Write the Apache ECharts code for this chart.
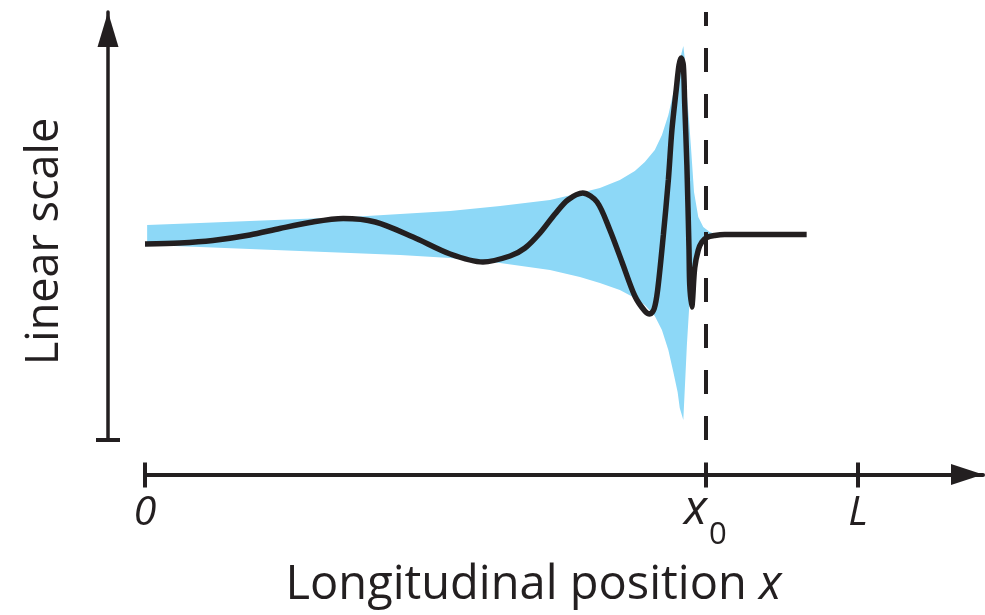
<!DOCTYPE html>
<html>
<head>
<meta charset="utf-8">
<script src="https://cdn.jsdelivr.net/npm/echarts@6/dist/echarts.min.js"></script>
<style>
  html, body { margin: 0; padding: 0; background: #fff; }
  #chart { width: 985px; height: 615px; }
</style>
</head>
<body>
<div id="chart"></div>
<script>
// envelope of the wave (blue band)
const envX      = [0.03, 0.77, 1.47, 2.17, 2.88, 3.58, 4.28, 4.98, 5.68, 6.10, 6.38, 6.66, 6.87, 7.01, 7.15, 7.25, 7.34, 7.41, 7.47, 7.50, 7.55, 7.57, 7.60, 7.63, 7.66, 7.70, 7.76, 7.83, 7.92, 8.04];
const envTop    = [1.5, 1.7, 1.9, 2.1, 2.3, 2.6, 2.9, 3.4, 4.0, 4.7, 5.2, 6.0, 6.9, 7.8, 9.0, 10.5, 12.5, 14.7, 16.5, 18.0, 19.4, 18.2, 14.5, 12.0, 9.0, 4.8, 2.3, 1.3, 0.8, 0.5];
const envBottom = [-0.5, -0.7, -0.9, -1.1, -1.3, -1.5, -1.8, -2.3, -3.0, -3.7, -4.3, -5.0, -5.8, -6.5, -7.6, -9.0, -11.0, -13.2, -15.2, -16.8, -18.0, -15.0, -10.5, -7.0, -4.5, -2.2, -1.0, -0.3, 0.2, 0.4];

// the wave itself (black curve)
const waveX = [0, 0.49, 0.95, 1.47, 1.89, 2.31, 2.78, 3.23, 3.76, 4.28, 4.74, 5.12, 5.33, 5.54, 5.75, 5.93, 6.14, 6.34, 6.52, 6.69, 6.87, 7.01, 7.08, 7.14, 7.19, 7.27, 7.34, 7.39, 7.45, 7.49, 7.52, 7.55, 7.57, 7.60, 7.63, 7.64, 7.67, 7.68, 7.71, 7.76, 7.81, 7.88, 7.99, 8.13, 8.63, 9.28];
const waveY = [-0.4, -0.3, -0.05, 0.5, 1.15, 1.75, 2.15, 1.8, 0.3, -1.4, -2.2, -1.6, -0.8, 0.7, 2.6, 4.0, 4.7, 3.8, 1.0, -2.2, -5.6, -7.1, -7.4, -6.9, -5.0, 0.5, 6.0, 11.0, 15.0, 17.5, 18.2, 17.5, 13.5, 7.5, -1.0, -4.5, -6.7, -6.0, -2.8, -1.0, -0.2, 0.25, 0.45, 0.55, 0.55, 0.55];

// x axis marks
const X0 = 7.86;
const L = 10;
const xTickValues = [0, X0, L];
const xTickLabels = ['{t|0}', '{x|x}{sub|0}', '{t|L}'];

const ink = '#231f20';
const blue = '#8dd8f7';
const font = 'Open Sans';

// layout (pixels)
const pxPerUnit = 71.3;
const originPx = 145;
const yAxisPx = 108;
const rightPx = 983;
const xMin0 = -(originPx - yAxisPx) / pxPerUnit;
const xMax = (rightPx - originPx) / pxPerUnit;

const zip = (xs, ys) => xs.map((x, i) => [x, ys[i]]);

// one closed polygon: top edge left->right, bottom edge right->left
function renderEnvelope(params, api) {
    if (params.dataIndex !== 0) return null;
    const pts = [];
    for (let i = 0; i < envX.length; i++) pts.push(api.coord([envX[i], envTop[i]]));
    for (let i = envX.length - 1; i >= 0; i--) pts.push(api.coord([envX[i], envBottom[i]]));
    return {
        type: 'polygon',
        shape: { points: pts },
        style: { fill: blue }
    };
}

const chart = echarts.init(document.getElementById('chart'));
chart.setOption({
    animation: false,
    grid: [
        { left: yAxisPx, right: 985 - rightPx, top: 12, bottom: 175 },
        { left: originPx, right: 985 - rightPx, top: 400, bottom: 140.5 }
    ],
    xAxis: [
        { gridIndex: 0, type: 'value', min: xMin0, max: xMax, show: false },
        {
            gridIndex: 1, type: 'value', min: 0, max: xMax, position: 'bottom',
            axisLine: {
                onZero: false,
                lineStyle: { color: ink, width: 4 },
                symbol: ['none', 'triangle'],
                symbolSize: [21, 32],
                symbolOffset: [0, -16]
            },
            axisTick: { customValues: xTickValues, length: 13, lineStyle: { color: ink, width: 4 } },
            axisLabel: {
                customValues: xTickValues,
                margin: 12,
                formatter: v => xTickLabels[xTickValues.indexOf(v)],
                rich: {
                    t: { fontFamily: font, fontStyle: 'italic', fontSize: 41, lineHeight: 41, color: ink, padding: [6, 0, 0, 0], verticalAlign: 'top' },
                    x: { fontFamily: font, fontStyle: 'italic', fontSize: 48, lineHeight: 48, color: ink, verticalAlign: 'top' },
                    sub: { fontFamily: font, fontSize: 31, lineHeight: 31, color: ink, padding: [33, 0, 0, 2], verticalAlign: 'top' }
                }
            },
            splitLine: { show: false },
            name: 'Longitudinal position {i|x}',
            nameLocation: 'middle',
            nameGap: 88,
            nameTextStyle: {
                fontFamily: font, fontSize: 47, color: ink,
                padding: [0, 61, 0, 0],
                rich: { i: { fontFamily: font, fontSize: 47, fontStyle: 'italic', color: ink } }
            }
        },
        {
            gridIndex: 1, type: 'value', min: 0, max: xMax, position: 'bottom',
            axisLine: { show: false, onZero: false },
            axisTick: { customValues: xTickValues, inside: true, length: 12, lineStyle: { color: ink, width: 4 } },
            axisLabel: { show: false },
            splitLine: { show: false }
        }
    ],
    yAxis: [
        {
            gridIndex: 0, type: 'value', min: -20, max: 22.8, position: 'left',
            axisLine: {
                onZero: false,
                lineStyle: { color: ink, width: 3.5 },
                symbol: ['none', 'triangle'],
                symbolSize: [21, 35],
                symbolOffset: [0, -17.5]
            },
            axisTick: { customValues: [-20], length: 12, lineStyle: { color: ink, width: 4 } },
            axisLabel: { show: false },
            splitLine: { show: false },
            name: 'Linear scale',
            nameLocation: 'middle',
            nameRotate: 90,
            nameGap: 40,
            nameTextStyle: { fontFamily: font, fontSize: 45, color: ink, padding: [0, 31, 0, 0] }
        },
        {
            gridIndex: 0, type: 'value', min: -20, max: 22.8, position: 'left',
            axisLine: { show: false, onZero: false },
            axisTick: { customValues: [-20], inside: true, length: 12, lineStyle: { color: ink, width: 4 } },
            axisLabel: { show: false },
            splitLine: { show: false }
        },
        { gridIndex: 1, type: 'value', min: 0, max: 1, show: false }
    ],
    series: [
        {
            name: 'envelope',
            type: 'custom',
            xAxisIndex: 0, yAxisIndex: 0,
            data: envX.map((x, i) => [x, envTop[i], envBottom[i]]),
            encode: { x: 0, y: [1, 2] },
            renderItem: renderEnvelope,
            silent: true,
            z: 1
        },
        {
            name: 'wave',
            type: 'line',
            xAxisIndex: 0, yAxisIndex: 0,
            data: zip(waveX, waveY),
            smooth: 0.3,
            showSymbol: false,
            silent: true,
            z: 3,
            lineStyle: { color: ink, width: 5.5 },
            markLine: {
                symbol: 'none',
                silent: true,
                label: { show: false },
                lineStyle: { color: ink, width: 4, type: [24, 22] },
                data: [{ xAxis: X0 }]
            }
        }
    ]
});
</script>
</body>
</html>
